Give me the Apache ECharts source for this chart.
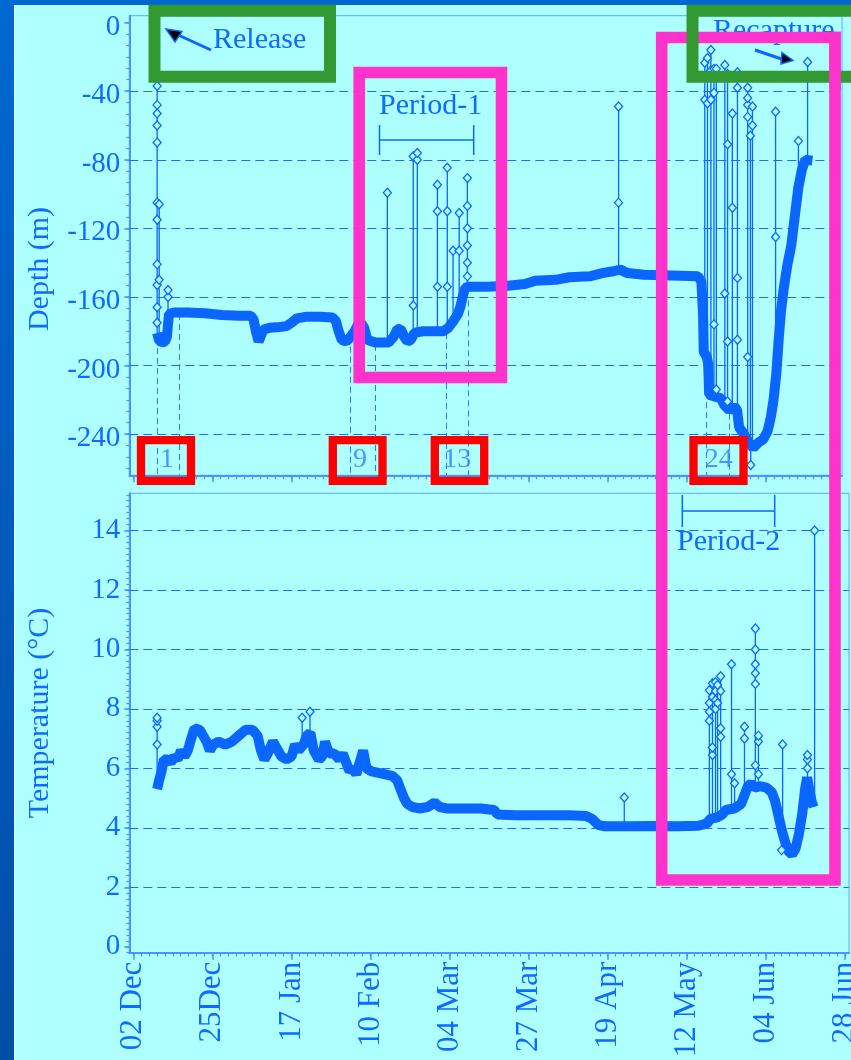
<!DOCTYPE html>
<html><head><meta charset="utf-8">
<script src="https://cdn.jsdelivr.net/npm/echarts@6/dist/echarts.min.js"></script>
<style>
html,body{margin:0;padding:0;width:851px;height:1060px;overflow:hidden;background:linear-gradient(to bottom,#0068d0,#004fa6);}
#bg{position:absolute;left:15px;top:5px;right:0;bottom:0;background:#aeffff;}
#edge{position:absolute;left:14px;top:5px;width:1px;bottom:0;background:#e6ffff;}
#chart{position:absolute;left:0;top:0;width:851px;height:1060px;}
</style></head><body><div id="bg"></div><div id="edge"></div><div id="chart"></div>
<script>
// ---------- data (x = days after 02 Dec) ----------
const tickLabels = ['02 Dec','25Dec','17 Jan','10 Feb','04 Mar','27 Mar','19 Apr','12 May','04 Jun','28 Jun'];
const tickDays = [0, 23.22, 46.44, 69.67, 92.89, 116.11, 139.33, 162.56, 185.78, 209];
const depthTicks = [0,-40,-80,-120,-160,-200,-240];
const tempTicks = [0,2,4,6,8,10,12,14];

const depthBase = [[7.0,-181],[7.5,-185],[8.3,-186.5],[9.3,-186],[9.9,-183],[10.2,-176],[10.5,-170],[12,-169],[16,-169],[21,-169.5],[26,-170.5],[31,-171],[34.5,-171],[35.3,-173],[36.0,-180],[36.8,-186],[37.4,-183],[38.2,-179],[40,-178],[43,-177.5],[45,-177],[46.5,-175],[48,-172.5],[51,-171.5],[55,-171.5],[58.5,-172],[59.5,-174],[60.3,-180],[61.2,-185],[62.5,-186],[63.5,-184],[65,-180],[66.5,-174],[67.8,-178],[68.7,-185],[71,-186.5],[75,-186.5],[76.5,-183],[77.5,-179],[78.5,-178.5],[79.5,-183],[80.5,-186],[81.5,-185],[82.5,-181],[85,-180],[88,-180],[91,-180],[92.5,-178],[94,-174],[95.3,-170],[96,-166],[96.6,-161],[97.2,-156],[98,-154],[104,-154],[110,-153.5],[115,-152.5],[118,-150.5],[124,-150],[128,-148.5],[134,-148],[138,-146],[141,-145],[143,-144],[145,-146],[150,-147],[158,-147.5],[165.8,-148],[166.8,-151],[167.3,-170],[167.5,-192],[168.4,-195],[168.8,-199],[169.1,-217],[170.5,-218],[172.5,-219],[173.5,-223],[175,-226],[176.5,-224],[177.3,-226],[177.9,-236],[179.3,-240],[180.8,-245],[182,-248],[183.5,-245],[185,-243],[186.3,-238],[187.2,-230],[188,-220],[188.8,-205],[189.5,-185],[190.2,-168],[191,-155],[192,-142],[193.2,-130],[194.3,-112],[195.3,-96],[196.3,-86],[197.3,-80],[199.4,-80.5]];

// each spike: [day, base, ..., top]
const depthSpikes = [
  [7.0,-181,-175,-166,-153,-141,-115,-105,-70,-60,-53,-48,-37],
  [7.6,-186,-150,-106],
  [10.2,-183,-160,-156],
  [74.6,-186,-99.3],
  [82.2,-184,-165,-78],
  [83.4,-181,-80,-76],
  [89.3,-180,-154,-110,-94.6],
  [92.2,-179,-154,-110,-84.6],
  [93.9,-175,-133],
  [95.7,-170,-133,-111],
  [98.1,-158,-148,-140,-130,-120,-107,-90.7],
  [142.5,-144,-105,-49],
  [167.8,-192,-45,-23.5],
  [168.6,-196,-47,-30,-20.7],
  [169.6,-205,-45,-28,-16],
  [170.5,-218,-176,-41,-27],
  [171.2,-218,-214,-27],
  [173.7,-221,-158,-24.7],
  [174.5,-224,-221,-186,-71,-30],
  [175.9,-225,-108,-53],
  [177.4,-230,-185,-149,-38,-29],
  [180.4,-245,-195,-55,-48,-44,-38],
  [181.2,-247,-66],
  [181.8,-248,-60,-49],
  [181.3,-248,-258],
  [188.6,-215,-125,-52],
  [195.3,-90,-69],
  [198.0,-80,-23]
];

const tempBase = [[7.0,5.3],[7.6,5.6],[8.3,5.9],[9.0,6.3],[10,6.3],[11,6.2],[12,6.4],[13,6.3],[14,6.6],[15,6.4],[16,6.6],[17,7.0],[18,7.35],[19.5,7.3],[20.5,7.1],[21.5,6.9],[22.5,6.6],[23.5,6.8],[25,6.9],[27,6.8],[29,6.9],[31,7.1],[33,7.3],[35,7.3],[36.5,7.1],[37.5,6.6],[38.5,6.3],[39.5,6.5],[41,6.9],[42,6.7],[43.5,6.4],[45,6.3],[46.5,6.4],[47.5,6.8],[48.5,6.6],[50,6.8],[51,7.1],[52,7.2],[53,6.6],[54.5,6.3],[55.5,6.4],[56.3,6.9],[57.5,6.5],[59,6.5],[60.5,6.3],[61.5,6.5],[62.5,6.2],[63.5,5.9],[64.5,6.0],[65.5,5.8],[66.5,6.2],[67.5,6.6],[68.5,6.0],[70,5.9],[72,5.85],[74,5.8],[76,5.75],[77.5,5.6],[78.5,5.3],[79.5,5.0],[80.5,4.8],[82,4.7],[84,4.65],[86.5,4.7],[88.5,4.85],[90,4.7],[92,4.65],[97,4.65],[102,4.65],[106,4.6],[107,4.45],[112,4.42],[120,4.42],[128,4.42],[133,4.4],[134.8,4.3],[136.5,4.1],[138.5,4.05],[146,4.05],[152,4.06],[160,4.05],[166,4.07],[168.5,4.15],[169.5,4.3],[171.5,4.35],[173,4.45],[174,4.6],[176.5,4.65],[178.5,4.8],[179.5,5.1],[180.5,5.4],[181.5,5.5],[182.5,5.35],[184,5.4],[186,5.35],[187.5,5.2],[188.5,4.9],[189.5,4.4],[190.5,3.9],[191.5,3.5],[192.5,3.2],[193.5,3.1],[194.5,3.3],[195.5,3.8],[196.5,4.5],[197.3,5.3],[197.9,5.7],[198.5,5.3],[199.2,4.9],[199.8,4.7]];

const tempSpikes = [
  [7.0,5.3,6.8,7.4,7.6,7.7],
  [49.6,6.8,7.7],
  [51.9,7.2,7.9],
  [144.2,4.05,5.02],
  [169.2,4.2,7.6,7.9,8.2,8.63],
  [170.1,4.3,6.45,6.7,8.4,8.86],
  [171.0,4.3,8.0,8.3,8.6,8.9],
  [171.6,4.35,8.2,8.8],
  [172.5,4.4,7.06,7.35,8.6,9.1],
  [175.7,4.65,5.8,9.5],
  [176.6,4.6,5.5],
  [179.5,5.1,7.0,7.4],
  [182.7,5.4,6.1,8.84,9.2,9.5,10.0,10.7],
  [183.6,5.4,5.8,6.9,7.1],
  [190.7,4.0,6.8],
  [190.4,3.7,3.25],
  [198.0,5.6,6.0,6.3,6.45],
  [200.1,4.7,14.0]
];

const dropLines = [[6.9,-184],[13.4,-170],[63.7,-189],[71.0,-188],[91.8,-181],[98.4,-162],[168.1,-198],[175.1,-228]];
const boxLabels = [[9.9,'1'],[66.6,'9'],[95.1,'13'],[171.9,'24']];
const depthGridLines = [-40,-80,-120,-160,-200,-240];
const tempGridLines = [2,4,6,8,10,12,14];

// ---------- styling ----------
const FONT = 'Liberation Serif';
const BLUE = '#0a66ff';
const TXT = '#0f6aff';
const AX = '#4b93ff';
const CYAN = '#aeffff';
const DEPTH_MIN = -264, DEPTH_MAX = 4, TEMP_MIN = -0.2, TEMP_MAX = 15.25;

const xMinor = []; for (let i = 0; i <= 90; i++) xMinor.push(i * 209 / 90);
const dMinor = []; for (let i = 0; i <= 39; i++) dMinor.push(-i * 40 / 6);
const tMinor = []; for (let i = -1; i <= 76; i++) tMinor.push(i * 0.2);

function spikeData(spikes) {
  const out = [];
  spikes.forEach(s => {
    for (let i = 1; i < s.length; i++) {
      out.push(i === 1 ? {value: [s[0], s[i]], symbol: 'none'} : {value: [s[0], s[i]]});
    }
    out.push({value: [s[0], '-']});
  });
  return out;
}

function xAxes(grid, max, labels) {
  return [
    {gridIndex: grid, type: 'value', min: -1.17, max: max, position: 'bottom',
     axisLine: {show: true, onZero: false, lineStyle: {color: AX, width: 2}},
     axisTick: {show: true, customValues: tickDays, length: 7, lineStyle: {color: AX, width: 1.5}},
     axisLabel: labels ? {show: true, customValues: tickDays, rotate: 90, margin: 9, fontFamily: FONT, fontSize: 31, color: TXT,
        formatter: v => { const i = tickDays.findIndex(d => Math.abs(d - v) < 0.01); return i >= 0 ? tickLabels[i] : ''; }} : {show: false},
     splitLine: {show: false}},
    {gridIndex: grid, type: 'value', min: -1.17, max: max, position: 'bottom',
     axisLine: {show: false, onZero: false},
     axisTick: {show: true, customValues: xMinor, length: 4, lineStyle: {color: AX, width: 1.2}},
     axisLabel: {show: false}, splitLine: {show: false}}
  ];
}
function yAxes(grid, min, max, ticks, minor, shiftDown) {
  const lab = {show: true, customValues: ticks, margin: 9, fontFamily: FONT, fontSize: 29, color: TXT};
  if (shiftDown) { lab.verticalAlign = 'top'; lab.lineHeight = shiftDown * 2; }
  return [
    {gridIndex: grid, type: 'value', min: min, max: max, position: 'left',
     axisLine: {show: true, onZero: false, lineStyle: {color: AX, width: 2}},
     axisTick: {show: true, customValues: ticks, length: 5, lineStyle: {color: AX, width: 1.5}},
     axisLabel: lab,
     splitLine: {show: false}},
    {gridIndex: grid, type: 'value', min: min, max: max, position: 'left',
     axisLine: {show: false, onZero: false},
     axisTick: {show: true, customValues: minor, length: 3, lineStyle: {color: AX, width: 1.2}},
     axisLabel: {show: false}, splitLine: {show: false}}
  ];
}

const gridMark = vals => ({
  silent: true, z: 1, symbol: ['none', 'none'], label: {show: false}, animation: false,
  lineStyle: {type: [9, 5], color: '#1a6cff', width: 1.2},
  data: vals.map(v => ({yAxis: v}))
});

const textStyle = (t, size, color) => ({text: t, font: size + 'px "Liberation Serif"', fill: color || TXT,
  align: 'left', verticalAlign: 'middle', textAlign: 'left', textVerticalAlign: 'middle'});
const rect = (x, y, w, h, color, lw, z) => ({type: 'rect', z: z, shape: {x: x, y: y, width: w, height: h},
  style: {fill: 'none', stroke: color, lineWidth: lw}, silent: true});
const seg = (x1, y1, x2, y2, color, lw, z) => ({type: 'line', z: z, shape: {x1: x1, y1: y1, x2: x2, y2: y2},
  style: {stroke: color, lineWidth: lw}, silent: true});

const MAG = '#ff33cc', GRN = '#339933', RED = '#ff0000';

const option = {
  animation: false,
  backgroundColor: 'transparent',
  textStyle: {fontFamily: FONT},
  grid: [
    {left: 129.3, top: 15.7, width: 712.7, height: 459.6, show: true, borderColor: '#62a6ff', borderWidth: 1,
     backgroundColor: 'transparent', containLabel: false, outerBoundsMode: 'none'},
    {left: 129.3, top: 493.3, width: 719.7, height: 459.4, show: true, borderColor: '#62a6ff', borderWidth: 1,
     backgroundColor: 'transparent', containLabel: false, outerBoundsMode: 'none'}
  ],
  xAxis: [...xAxes(0, 208.1, false), ...xAxes(1, 210.2, true)],
  yAxis: [...yAxes(0, DEPTH_MIN, DEPTH_MAX, depthTicks, dMinor, 4.5), ...yAxes(1, TEMP_MIN, TEMP_MAX, tempTicks, tMinor, 0)],
  series: [
    {type: 'line', name: 'depth', xAxisIndex: 0, yAxisIndex: 0, data: depthBase, showSymbol: false, z: 2,
     lineStyle: {width: 10, color: BLUE}, itemStyle: {color: BLUE}, markLine: gridMark(depthGridLines)},
    {type: 'line', name: 'depthSpikes', xAxisIndex: 0, yAxisIndex: 0, data: spikeData(depthSpikes), z: 3,
     connectNulls: false, symbol: 'diamond', symbolSize: [8, 9], showAllSymbol: true,
     lineStyle: {width: 1.3, color: BLUE}, itemStyle: {color: CYAN, borderColor: BLUE, borderWidth: 1.3}},
    {type: 'scatter', name: 'periods', xAxisIndex: 0, yAxisIndex: 0, z: 4, symbolSize: 1,
     itemStyle: {color: 'rgba(0,0,0,0)'},
     data: boxLabels.map(b => ({value: [b[0], -255], name: b[1]})),
     label: {show: true, position: 'inside', formatter: '{b}', fontFamily: FONT, fontSize: 28, color: '#2f7bff'},
     markLine: {silent: true, z: 1, symbol: ['none', 'none'], label: {show: false}, animation: false,
       lineStyle: {type: [6, 4], color: '#2a76ff', width: 1},
       data: dropLines.map(d => [{coord: [d[0], d[1]]}, {coord: [d[0], DEPTH_MIN]}])}},
    {type: 'line', name: 'temp', xAxisIndex: 2, yAxisIndex: 2, data: tempBase, showSymbol: false, z: 2,
     lineStyle: {width: 10, color: BLUE}, itemStyle: {color: BLUE}, markLine: gridMark(tempGridLines)},
    {type: 'line', name: 'tempSpikes', xAxisIndex: 2, yAxisIndex: 2, data: spikeData(tempSpikes), z: 3,
     connectNulls: false, symbol: 'diamond', symbolSize: [8, 9], showAllSymbol: true,
     lineStyle: {width: 1.3, color: BLUE}, itemStyle: {color: CYAN, borderColor: BLUE, borderWidth: 1.3}}
  ],
  graphic: {elements: [
    {type: 'text', x: 40, y: 269, rotation: Math.PI / 2, z: 100,
     style: Object.assign(textStyle('Depth (m)', 30), {align: 'center', textAlign: 'center'})},
    {type: 'text', x: 40, y: 713, rotation: Math.PI / 2, z: 100,
     style: Object.assign(textStyle('Temperature (\u00B0C)', 30), {align: 'center', textAlign: 'center'})},
    {type: 'text', x: 213, y: 40.5, z: 100, style: textStyle('Release', 30)},
    {type: 'text', x: 713, y: 31, z: 100, style: textStyle('Recapture', 30)},
    {type: 'text', x: 379, y: 106.5, z: 100, style: textStyle('Period-1', 30)},
    {type: 'text', x: 677, y: 542, z: 100, style: textStyle('Period-2', 30)},
    // period brackets
    seg(379.5, 140, 473.7, 140, BLUE, 1.5, 100), seg(379.5, 125, 379.5, 155, BLUE, 1.5, 100), seg(473.7, 125, 473.7, 155, BLUE, 1.5, 100),
    seg(682.3, 511, 774.7, 511, BLUE, 1.5, 100), seg(682.3, 495, 682.3, 527, BLUE, 1.5, 100), seg(774.7, 495, 774.7, 527, BLUE, 1.5, 100),
    // arrows
    seg(211, 50, 176, 34, BLUE, 3, 100),
    {type: 'polygon', z: 100, shape: {points: [[166, 29], [182, 31.5], [175, 42]]}, style: {fill: '#000', stroke: BLUE, lineWidth: 1.5}},
    seg(755, 50, 783, 59.5, BLUE, 3, 100),
    {type: 'polygon', z: 100, shape: {points: [[782, 52.5], [793, 60.5], [781, 64]]}, style: {fill: '#000', stroke: BLUE, lineWidth: 1.5}},
    // red boxes
    rect(141, 440.2, 50, 40.6, RED, 8.3, 101), rect(332.8, 440.2, 49.7, 40.6, RED, 8.3, 101),
    rect(434.8, 440.2, 49.4, 40.6, RED, 8.3, 101), rect(693.5, 440.2, 50, 40.6, RED, 8.3, 101),
    // magenta / green
    rect(359.2, 72.5, 142.3, 305, MAG, 11.6, 101),
    rect(661.7, 37.5, 173.3, 842.5, MAG, 11.6, 101),
    rect(154.5, 10.8, 175.5, 65.9, GRN, 12, 102),
    rect(692.5, 10.8, 200, 65.9, GRN, 12, 102),
    seg(835, 31.7, 835, 90, MAG, 11.6, 103)
  ]}
};

const chart = echarts.init(document.getElementById('chart'), null, {renderer: 'canvas'});
chart.setOption(option);
</script></body></html>
